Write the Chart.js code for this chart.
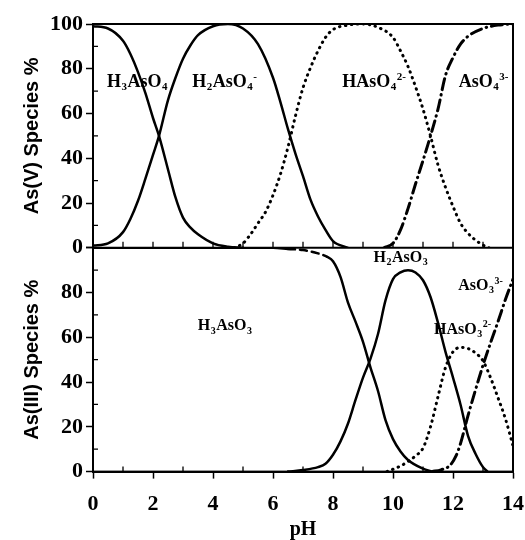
<!DOCTYPE html>
<html>
<head>
<meta charset="utf-8">
<script src="https://cdn.jsdelivr.net/npm/chart.js@4.4.1/dist/chart.umd.min.js"></script>
<style>
  html, body { margin: 0; padding: 0; background: #fff; }
</style>
</head>
<body>
<canvas id="speciesChart" width="525" height="540"></canvas>
<script>
// As(V) species, top panel
const phH3AsO4 = [0, 0.5, 1, 1.25, 1.5, 1.75, 2, 2.2, 2.5, 2.75, 3, 3.25, 3.5, 4, 4.5, 5];
const h3aso4 = [99, 98, 92.5, 86.5, 78.5, 69, 58, 50, 35, 22.5, 13.5, 9, 6, 2, 0.5, 0];
const phH2AsO4 = [0, 0.5, 1, 1.25, 1.5, 1.75, 2, 2.2, 2.5, 2.75, 3, 3.25, 3.5, 4, 4.5, 5, 5.5, 6, 6.25, 6.5, 6.75, 7, 7.25, 7.5, 7.75, 8, 8.5];
const h2aso4 = [1, 2, 7, 13, 21, 31, 41.5, 50, 66, 76, 84.5, 90.5, 95, 99, 100, 98, 91, 76, 65, 53, 42, 32, 21.5, 14, 8, 3, 0];
const phHAsO4 = [4.7, 5, 5.25, 5.5, 5.75, 6, 6.25, 6.5, 6.75, 7, 7.25, 7.5, 7.75, 8, 8.5, 9, 9.5, 10, 10.25, 10.5, 10.75, 11, 11.25, 11.5, 11.75, 12, 12.25, 12.5, 12.9, 13.2];
const haso4 = [0, 2, 6, 11, 16, 23.5, 33, 45, 59, 71.5, 80.5, 88, 94, 97.5, 99.5, 100, 98.5, 94, 88, 81, 72, 62, 50, 37, 27, 18.5, 11, 6.5, 2, 0];
const phAsO4 = [9.7, 10, 10.25, 10.5, 10.75, 11, 11.25, 11.5, 11.75, 12, 12.25, 12.5, 13, 13.5, 14];
const aso4 = [0, 2, 8, 17.5, 28.5, 39, 50, 62, 77, 85, 91, 94.5, 98, 99.5, 100];

// As(III) species, bottom panel
const phH3AsO3 = [0, 6, 6.5, 7, 7.5, 7.8, 8, 8.25, 8.5, 8.75, 9, 9.25, 9.5, 9.75, 10, 10.25, 10.5, 11, 11.3];
const h3aso3 = [100, 100, 99.5, 99, 97.5, 96, 94, 87, 75.5, 67, 58, 46.5, 36, 23, 14.5, 9, 5.2, 1.3, 0];
const phH2AsO3 = [6.5, 7, 7.5, 7.75, 8, 8.25, 8.5, 8.75, 9, 9.25, 9.5, 9.75, 10, 10.25, 10.5, 10.75, 11, 11.25, 11.5, 11.75, 12, 12.25, 12.5, 12.75, 13, 13.15];
const h2aso3 = [0, 0.7, 2, 3.5, 7.5, 13.5, 21.5, 32, 42, 50.5, 61.5, 76.5, 86, 89, 90, 89, 85.5, 78, 66.5, 53.5, 42, 30, 16, 8, 2, 0];
const phHAsO3 = [9.8, 10.25, 10.5, 10.75, 11, 11.25, 11.5, 11.75, 12, 12.25, 12.5, 12.75, 13, 13.25, 13.5, 13.75, 14];
const haso3 = [0, 2.5, 4.5, 7, 10.5, 20, 33.5, 46.5, 53.5, 55.5, 55, 53, 49.5, 42, 33, 23.5, 11.5];
const phAsO3 = [11.3, 11.6, 11.9, 12.1, 12.25, 12.5, 12.75, 13, 13.25, 13.5, 13.75, 14];
const aso3 = [0, 0.8, 2.8, 7, 12.5, 25, 36.5, 47.5, 57.5, 67, 77, 86];

// species labels (_ = subscript char, ^ = superscript rest)
const labelsV = ['H_3AsO_4', 'H_2AsO_4^-', 'HAsO_4^2-', 'AsO_4^3-'];
const labelsVPh = [1.45, 4.35, 9.35, 13.0];
const labelsVPct = [74, 74, 74, 74];
const labelsIII = ['H_3AsO_3', 'H_2AsO_3', 'AsO_3^3-', 'HAsO_3^2-'];
const labelsIIIPh = [4.37, 10.23, 12.9, 12.3];
const labelsIIIPct = [65, 95.5, 83, 63.5];

const xTicks = [0, 2, 4, 6, 8, 10, 12, 14];

const SERIF = '"Liberation Serif", "Times New Roman", serif';
const SANS = '"Liberation Sans", Arial, sans-serif';

function pts(xs, ys) {
    return xs.map((x, i) => ({ x: x, y: ys[i] }));
}

function line(xs, ys, axis, style) {
    const ds = {
        data: pts(xs, ys),
        yAxisID: axis,
        borderColor: '#000',
        borderWidth: 2.5,
        pointRadius: 0,
        fill: false,
        cubicInterpolationMode: 'monotone',
        borderCapStyle: 'round'
    };
    if (style === 'dot') { ds.borderDash = [0.5, 5.5]; ds.borderWidth = 3; }
    if (style === 'dashdot') { ds.borderDash = [11, 5, 0.5, 5]; ds.borderWidth = 3; }
    return ds;
}

function parseRich(str) {
    const runs = [];
    let buf = '';
    for (let i = 0; i < str.length; i++) {
        const ch = str[i];
        if (ch === '_') {
            if (buf) { runs.push({ t: buf, k: 'n' }); buf = ''; }
            runs.push({ t: str[i + 1], k: 'sub' });
            i++;
        } else if (ch === '^') {
            if (buf) { runs.push({ t: buf, k: 'n' }); buf = ''; }
            runs.push({ t: str.slice(i + 1), k: 'sup' });
            break;
        } else {
            buf += ch;
        }
    }
    if (buf) runs.push({ t: buf, k: 'n' });
    return runs;
}

function drawRich(ctx, str, cx, cy, size) {
    const runs = parseRich(str);
    const small = Math.round(size * 0.62);
    const fontFor = r => 'bold ' + (r.k === 'n' ? size : small) + 'px ' + SERIF;
    let total = 0;
    runs.forEach(r => { ctx.font = fontFor(r); r.w = ctx.measureText(r.t).width; total += r.w; });
    let x = cx - total / 2;
    ctx.textBaseline = 'middle';
    ctx.textAlign = 'left';
    runs.forEach(r => {
        ctx.font = fontFor(r);
        let dy = 0;
        if (r.k === 'sub') dy = size * 0.3;
        if (r.k === 'sup') dy = -size * 0.3;
        ctx.fillText(r.t, x, cy + dy);
        x += r.w + 0.5;
    });
}

const framePlugin = {
    id: 'frame',
    afterDraw(chart) {
        const ctx = chart.ctx;
        const a = chart.chartArea;
        const x = chart.scales.x, yT = chart.scales.yT, yB = chart.scales.yB;
        ctx.save();
        ctx.strokeStyle = '#000';
        ctx.fillStyle = '#000';

        // minor ticks, inward
        ctx.lineWidth = 1.3;
        ctx.beginPath();
        [yT, yB].forEach(s => {
            for (let v = 10; v < 100; v += 20) {
                const py = s.getPixelForValue(v);
                ctx.moveTo(a.left, py); ctx.lineTo(a.left + 5, py);
            }
        });
        for (let p = 1; p < 14; p++) {
            const px = x.getPixelForValue(p);
            ctx.moveTo(px, yB.top); ctx.lineTo(px, yB.top - 6);
            if (p % 2 === 1) { ctx.moveTo(px, a.bottom); ctx.lineTo(px, a.bottom - 5); }
        }
        ctx.stroke();

        // panel frames
        ctx.lineWidth = 2;
        ctx.strokeRect(a.left, a.top, a.right - a.left, a.bottom - a.top);
        ctx.beginPath();
        ctx.moveTo(a.left, yB.top); ctx.lineTo(a.right, yB.top);
        ctx.stroke();

        // species labels
        labelsV.forEach((t, i) => {
            drawRich(ctx, t, x.getPixelForValue(labelsVPh[i]), yT.getPixelForValue(labelsVPct[i]), 18);
        });
        labelsIII.forEach((t, i) => {
            drawRich(ctx, t, x.getPixelForValue(labelsIIIPh[i]), yB.getPixelForValue(labelsIIIPct[i]), 16);
        });
        ctx.restore();
    }
};

function yAxis(title, weight, hideTop) {
    return {
        type: 'linear',
        position: 'left',
        stack: 'species',
        stackWeight: weight,
        min: 0,
        max: 100,
        ticks: {
            stepSize: 20,
            autoSkip: false,
            color: '#000',
            padding: 3,
            font: { family: SERIF, size: 22, weight: 'bold' },
            callback: v => (hideTop && v === 100) ? '' : v
        },
        grid: { drawOnChartArea: false, tickLength: 7, tickColor: '#000', tickWidth: 1.5 },
        border: { color: '#000', width: 2 },
        title: {
            display: true,
            text: title,
            color: '#000',
            font: { family: SANS, size: 20, weight: 'bold' },
            padding: { top: 0, bottom: 2 }
        },
        afterFit: s => { s.width = 73; }
    };
}

new Chart(document.getElementById('speciesChart'), {
    type: 'line',
    data: {
        datasets: [
            line(phH3AsO4, h3aso4, 'yT', 'solid'),
            line(phH2AsO4, h2aso4, 'yT', 'solid'),
            line(phHAsO4, haso4, 'yT', 'dot'),
            line(phAsO4, aso4, 'yT', 'dashdot'),
            Object.assign(line(phH3AsO3, h3aso3, 'yB', 'solid'), {
                segment: { borderDash: c => (c.p0.parsed.x >= 6.5 && c.p1.parsed.x <= 7.8) ? [7, 5] : undefined }
            }),
            line(phH2AsO3, h2aso3, 'yB', 'solid'),
            line(phHAsO3, haso3, 'yB', 'dot'),
            line(phAsO3, aso3, 'yB', 'dashdot')
        ]
    },
    options: {
        responsive: false,
        animation: false,
        layout: { padding: { left: 20, right: 12, top: 24, bottom: -2 } },
        plugins: { legend: { display: false }, tooltip: { enabled: false } },
        scales: {
            x: {
                type: 'linear',
                min: 0,
                max: 14,
                afterBuildTicks: s => { s.ticks = xTicks.map(v => ({ value: v })); },
                afterFit: s => { s.paddingLeft = 0; s.paddingRight = 0; },
                ticks: {
                    color: '#000',
                    padding: 13,
                    font: { family: SERIF, size: 22, weight: 'bold' }
                },
                grid: { drawOnChartArea: false, tickLength: 7, tickColor: '#000', tickWidth: 1.5 },
                border: { color: '#000', width: 2 },
                title: {
                    display: true,
                    text: 'pH',
                    color: '#000',
                    font: { family: SERIF, size: 20, weight: 'bold' },
                    padding: { top: -13, bottom: 0 }
                }
            },
            yB: yAxis('As(III) Species %', 1, true),
            yT: yAxis('As(V) Species %', 1, false)
        }
    },
    plugins: [framePlugin]
});
</script>
</body>
</html>
